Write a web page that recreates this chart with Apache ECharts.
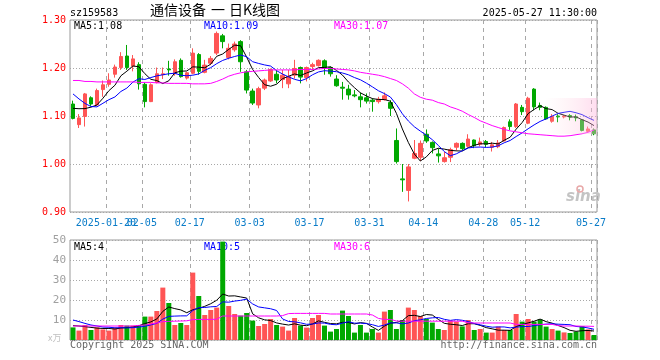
<!DOCTYPE html>
<html><head><meta charset="utf-8">
<script src="https://cdn.jsdelivr.net/npm/echarts@6/dist/echarts.min.js"></script>
<style>html,body{margin:0;padding:0;background:#fff}#c{width:660px;height:360px}</style>
</head><body><div id="c"></div>
<script>
const dates = [
'2025-01-10','2025-01-13','2025-01-14','2025-01-15','2025-01-16','2025-01-17','2025-01-20','2025-01-21','2025-01-22','2025-01-23','2025-01-24','2025-01-27',
'2025-02-05','2025-02-06','2025-02-07','2025-02-10','2025-02-11','2025-02-12','2025-02-13','2025-02-14','2025-02-17','2025-02-18','2025-02-19','2025-02-20','2025-02-21','2025-02-24','2025-02-25','2025-02-26','2025-02-27','2025-02-28',
'2025-03-03','2025-03-04','2025-03-05','2025-03-06','2025-03-07','2025-03-10','2025-03-11','2025-03-12','2025-03-13','2025-03-14','2025-03-17','2025-03-18','2025-03-19','2025-03-20','2025-03-21','2025-03-24','2025-03-25','2025-03-26','2025-03-27','2025-03-28','2025-03-31',
'2025-04-01','2025-04-02','2025-04-03','2025-04-07','2025-04-08','2025-04-09','2025-04-10','2025-04-11','2025-04-14','2025-04-15','2025-04-16','2025-04-17','2025-04-18','2025-04-21','2025-04-22','2025-04-23','2025-04-24','2025-04-25','2025-04-28','2025-04-29','2025-04-30',
'2025-05-06','2025-05-07','2025-05-08','2025-05-09','2025-05-12','2025-05-13','2025-05-14','2025-05-15','2025-05-16','2025-05-19','2025-05-20','2025-05-21','2025-05-22','2025-05-23','2025-05-26','2025-05-27'];

const open  = [1.125,1.082,1.099,1.138,1.123,1.155,1.166,1.187,1.201,1.225,1.204,1.207,1.166,1.130,1.170,1.186,1.198,1.188,1.216,1.179,1.189,1.228,1.191,1.210,1.231,1.267,1.222,1.238,1.255,1.192,1.152,1.123,1.158,1.173,1.187,1.176,1.167,1.185,1.201,1.180,1.203,1.205,1.215,1.201,1.177,1.160,1.156,1.144,1.140,1.138,1.133,1.130,1.134,1.128,1.049,0.969,0.945,1.012,1.014,1.062,1.045,1.021,1.005,1.014,1.035,1.043,1.037,1.050,1.041,1.047,1.035,1.036,1.048,1.088,1.078,1.118,1.085,1.156,1.122,1.118,1.089,1.100,1.098,1.101,1.098,1.092,1.068,1.071];
const close = [1.095,1.096,1.146,1.125,1.153,1.165,1.175,1.202,1.224,1.201,1.219,1.167,1.130,1.165,1.188,1.188,1.196,1.213,1.182,1.190,1.231,1.193,1.206,1.220,1.272,1.255,1.241,1.250,1.213,1.154,1.127,1.157,1.175,1.197,1.175,1.185,1.182,1.199,1.181,1.201,1.207,1.216,1.201,1.188,1.163,1.158,1.144,1.142,1.134,1.131,1.130,1.135,1.142,1.116,1.005,0.967,0.994,1.022,1.043,1.048,1.034,1.017,1.013,1.030,1.043,1.032,1.052,1.038,1.046,1.041,1.040,1.044,1.076,1.078,1.125,1.109,1.137,1.119,1.118,1.094,1.099,1.098,1.100,1.098,1.096,1.070,1.073,1.063];
const low   = [1.093,1.075,1.078,1.121,1.121,1.140,1.161,1.180,1.196,1.196,1.193,1.155,1.118,1.129,1.168,1.177,1.184,1.184,1.180,1.176,1.187,1.186,1.189,1.206,1.227,1.241,1.218,1.234,1.192,1.147,1.123,1.116,1.154,1.171,1.168,1.158,1.158,1.178,1.168,1.172,1.196,1.203,1.186,1.182,1.161,1.134,1.134,1.139,1.118,1.126,1.109,1.126,1.132,1.100,1.001,0.942,0.922,1.010,1.006,1.044,1.022,1.003,1.003,1.004,1.028,1.028,1.035,1.033,1.037,1.035,1.026,1.033,1.047,1.071,1.075,1.102,1.083,1.112,1.112,1.092,1.086,1.087,1.095,1.091,1.089,1.068,1.066,1.060];
const high  = [1.132,1.104,1.148,1.141,1.157,1.174,1.189,1.207,1.233,1.248,1.227,1.212,1.170,1.168,1.201,1.201,1.215,1.218,1.220,1.192,1.241,1.231,1.217,1.225,1.276,1.271,1.251,1.255,1.258,1.196,1.157,1.161,1.178,1.199,1.196,1.196,1.196,1.217,1.203,1.203,1.211,1.218,1.218,1.203,1.185,1.171,1.165,1.154,1.149,1.147,1.137,1.140,1.149,1.133,1.074,1.000,1.000,1.050,1.049,1.072,1.047,1.032,1.025,1.034,1.045,1.045,1.062,1.051,1.055,1.050,1.046,1.050,1.078,1.093,1.127,1.123,1.140,1.158,1.128,1.120,1.104,1.104,1.102,1.104,1.103,1.093,1.078,1.074];
// closes of the 9 sessions before the visible window (estimated from the MA lines' starting points)
const prevClose = [1.20,1.24,1.19,1.16,1.09,1.10,1.145,1.11,1.13];
// MA30 of price
const ma30Price = [1.174,1.174,1.172,1.172,1.171,1.171,1.171,1.171,1.171,1.171,1.171,1.170,1.170,1.170,1.169,1.169,1.168,1.168,1.168,1.168,1.167,1.167,1.167,1.168,1.172,1.177,1.183,1.187,1.190,1.192,1.193,1.194,1.195,1.196,1.196,1.196,1.196,1.196,1.197,1.197,1.197,1.198,1.199,1.199,1.198,1.197,1.196,1.194,1.191,1.189,1.187,1.185,1.182,1.178,1.174,1.167,1.158,1.146,1.139,1.135,1.133,1.128,1.125,1.119,1.115,1.110,1.103,1.097,1.090,1.085,1.080,1.076,1.072,1.069,1.067,1.065,1.063,1.062,1.061,1.060,1.059,1.058,1.058,1.059,1.061,1.063,1.066,1.071];

const volume = [6.3,4.7,7.5,5,6.3,5.3,4.7,6.2,7.5,7.2,7.2,7.5,11.7,11.7,14.5,26.2,18.5,7.5,8.5,7.5,33.7,22,12.5,15,16.2,49.2,17,13,12.2,13.5,9.7,7,8,10.5,7.5,6.7,4.7,11,7.2,6.2,11,12.5,7.2,4.2,5.5,14.7,12,3.7,7.5,3.7,5.5,3.7,14.2,15,5.5,10,16.2,15,12,10.5,8.7,5.5,5,9.7,9.2,6.8,10,5,5.5,3.7,3.7,6.7,5,5,13,9.2,10.5,9.2,10.3,6.7,5.5,4.7,3.8,3.5,4.2,7,5.3,2.5];
const prevVolume = [12.7,16.5,13,11,10.8,5.7,9,7,8];
const ma30Volume = [7,7,7,7,7,7,7,7,7,7,7,7.3,7.5,8,8.5,9.2,9.3,9.4,9.5,9.6,10.2,10.3,10.3,10.3,10.4,12,12,12,12,12,12,12,12,12,12,12.2,13.2,13.3,13.3,13.3,13.3,13.3,13.3,13,13,13,13,13,13,13,12.5,10.8,10.3,10.3,9.5,9.4,9.4,9.4,9.4,9.4,9.4,9.4,9.4,9.4,9.4,9.4,8.6,8.5,8.5,8.5,8.5,8.5,8.5,8.5,7.8,7.8,7.8,7.8,7.8,7.8,7.8,7.2,7,7,7,6.9,6.9,6.8];

const tickDates  = ['2025-01-20','2025-02-05','2025-02-17','2025-03-03','2025-03-17','2025-03-31','2025-04-14','2025-04-28','2025-05-12','2025-05-27'];
const tickLabels = ['2025-01-20','02-05','02-17','03-03','03-17','03-31','04-14','04-28','05-12','05-27'];
const priceTicks = [0.90,1.00,1.10,1.20,1.30];
const volumeTicks = [0,10,20,30,40,50];

function movingAvg(values, prev, n) {
  const all = prev.concat(values);
  const off = prev.length;
  return values.map((_, i) => {
    let s = 0;
    for (let k = 0; k < n; k++) s += all[off + i - k];
    return +(s / n).toFixed(4);
  });
}
const ma5Price = movingAvg(close, prevClose, 5);
const ma10Price = movingAvg(close, prevClose, 10);
const ma5Vol = movingAvg(volume, prevVolume, 5);
const ma10Vol = movingAvg(volume, prevVolume, 10);

const UP = '#ff5555', DOWN = '#00a800';
const candles = dates.map((d, i) => [open[i], close[i], low[i], high[i]]);
const volBars = volume.map((v, i) => ({ value: v, itemStyle: { color: close[i] >= open[i] ? UP : DOWN } }));

const mono = '"DejaVu Sans Mono", monospace';
const tickSet = new Set(tickDates.map(d => dates.indexOf(d)));
const splitX = { show: true, interval: (idx) => tickSet.has(idx), lineStyle: { color: '#a8a8a8', type: [4, 4], width: 1 } };
const splitY = { show: true, lineStyle: { color: '#a8a8a8', type: [1, 2], width: 1 } };

const last = a => a[a.length - 1];

const chart = echarts.init(document.getElementById('c'), null, { renderer: 'canvas' });
chart.setOption({
  animation: false,
  backgroundColor: '#fff',
  grid: [
    { left: 70, top: 20, width: 527, height: 192, show: true, borderColor: '#999', borderWidth: 1, containLabel: false, outerBoundsMode: 'none' },
    { left: 70, top: 240, width: 527, height: 100, show: true, borderColor: '#999', borderWidth: 1, containLabel: false, outerBoundsMode: 'none' }
  ],
  xAxis: [
    { type: 'category', gridIndex: 0, data: dates, boundaryGap: true,
      axisLine: { show: false }, axisTick: { show: false },
      axisLabel: { show: true, hideOverlap: false, interval: 0, color: '#0a7cc8', fontFamily: mono, fontSize: 10, margin: 6, padding: [0, 6, 0, 0],
        formatter: (v) => { const k = tickDates.indexOf(v); return k >= 0 ? tickLabels[k] : ''; } },
      splitLine: splitX },
    { type: 'category', gridIndex: 1, data: dates, boundaryGap: true,
      axisLine: { show: false }, axisTick: { show: false }, axisLabel: { show: false },
      splitLine: splitX }
  ],
  yAxis: [
    { type: 'value', gridIndex: 0, min: priceTicks[0], max: last(priceTicks), interval: 0.1,
      axisLine: { show: false }, axisTick: { show: false },
      axisLabel: { color: '#ff0000', fontFamily: mono, fontSize: 10, margin: 4, formatter: v => v.toFixed(2) },
      splitLine: splitY },
    { type: 'value', gridIndex: 1, min: volumeTicks[0], max: last(volumeTicks), interval: 10,
      axisLine: { show: false }, axisTick: { show: false },
      axisLabel: { color: '#a0a0a0', fontFamily: mono, fontSize: 11, margin: 4, formatter: v => v === 0 ? '' : String(v) },
      splitLine: splitY }
  ],
  series: [
    { type: 'candlestick', xAxisIndex: 0, yAxisIndex: 0, data: candles, barWidth: 4,
      itemStyle: { color: UP, color0: DOWN, borderColor: UP, borderColor0: DOWN, borderWidth: 1 } },
    { type: 'line', xAxisIndex: 0, yAxisIndex: 0, data: ma5Price, showSymbol: false, lineStyle: { color: '#000', width: 1 }, z: 5 },
    { type: 'line', xAxisIndex: 0, yAxisIndex: 0, data: ma10Price, showSymbol: false, lineStyle: { color: '#0000ff', width: 1 }, z: 5 },
    { type: 'line', xAxisIndex: 0, yAxisIndex: 0, data: ma30Price, showSymbol: false, lineStyle: { color: '#ff00ff', width: 1 }, z: 5 },
    { type: 'bar', xAxisIndex: 1, yAxisIndex: 1, data: volBars, barWidth: 5 },
    { type: 'line', xAxisIndex: 1, yAxisIndex: 1, data: ma5Vol, showSymbol: false, lineStyle: { color: '#000', width: 1 }, z: 5 },
    { type: 'line', xAxisIndex: 1, yAxisIndex: 1, data: ma10Vol, showSymbol: false, lineStyle: { color: '#0000ff', width: 1 }, z: 5 },
    { type: 'line', xAxisIndex: 1, yAxisIndex: 1, data: ma30Volume, showSymbol: false, lineStyle: { color: '#ff00ff', width: 1 }, z: 5 }
  ],
  graphic: [
    { type: 'text', left: 70, top: 8, style: { text: 'sz159583', font: '10px ' + mono, fill: '#000' } },
    { type: 'text', left: 150, top: 3, style: { text: '通信设备', font: '14px "Noto Sans CJK SC"', fill: '#000' } },
    { type: 'text', left: 211, top: 3, style: { text: '一', font: '14px "Noto Sans CJK SC"', fill: '#000' } },
    { type: 'text', left: 229, top: 3, style: { text: '日K线图', font: '14px "Noto Sans CJK SC"', fill: '#000' } },
    { type: 'text', right: 63, top: 8, style: { text: '2025-05-27 11:30:00', font: '10px ' + mono, fill: '#000' } },
    { type: 'text', left: 74, top: 21, style: { text: 'MA5:' + last(ma5Price).toFixed(2), font: '10px ' + mono, fill: '#000' } },
    { type: 'text', left: 204, top: 21, style: { text: 'MA10:' + last(ma10Price).toFixed(2), font: '10px ' + mono, fill: '#0000ff' } },
    { type: 'text', left: 334, top: 21, style: { text: 'MA30:' + last(ma30Price).toFixed(2), font: '10px ' + mono, fill: '#ff00ff' } },
    { type: 'text', left: 74, top: 242, style: { text: 'MA5:' + Math.floor(last(ma5Vol)), font: '10px ' + mono, fill: '#000' } },
    { type: 'text', left: 204, top: 242, style: { text: 'MA10:' + Math.floor(last(ma10Vol)), font: '10px ' + mono, fill: '#0000ff' } },
    { type: 'text', left: 334, top: 242, style: { text: 'MA30:' + Math.floor(last(ma30Volume)), font: '10px ' + mono, fill: '#ff00ff' } },
    { type: 'text', left: 70, top: 340, style: { text: 'Copyright 2025 SINA.COM', font: '10px ' + mono, fill: '#666' } },
    { type: 'text', right: 63, top: 340, style: { text: 'http://finance.sina.com.cn', font: '10px ' + mono, fill: '#666' } },
    { type: 'text', left: 48, top: 333, style: { text: 'x万', font: '9px "Noto Sans CJK SC"', fill: '#c0c0c0' } },
    { type: 'text', left: 566, top: 190, style: { text: 'sina', font: 'italic bold 15px "DejaVu Sans"', fill: '#c4c4c4' } },
    { type: 'circle', shape: { cx: 580, cy: 189, r: 3 }, style: { fill: 'none', stroke: '#e8a8a8', lineWidth: 1.5 } },
    { type: 'rect', shape: { x: 545, y: 98, width: 52, height: 36 }, z: 10,
      style: { fill: new echarts.graphic.LinearGradient(0, 0, 1, 0, [
        { offset: 0, color: 'rgba(255,220,230,0)' }, { offset: 0.4, color: 'rgba(255,215,228,0.25)' }, { offset: 1, color: 'rgba(255,180,220,0.45)' }]) } }
  ]
});
</script></body></html>
